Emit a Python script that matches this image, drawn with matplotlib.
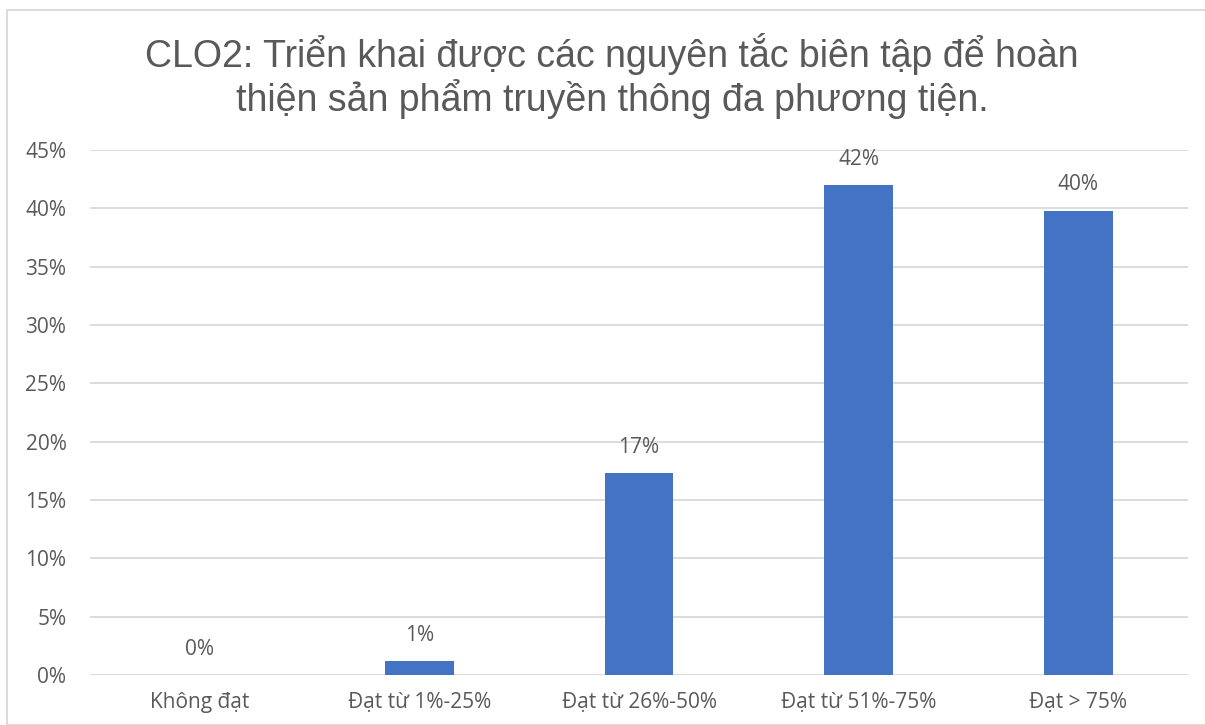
import matplotlib.pyplot as plt
import numpy as np
from matplotlib.patches import Rectangle

categories = ['Không đạt', 'Đạt từ 1%-25%', 'Đạt từ 26%-50%', 'Đạt từ 51%-75%', 'Đạt > 75%']
values = [0.0, 1.2, 17.3, 42.0, 39.8]
labels = ['0%', '1%', '17%', '42%', '40%']
yticks = [0, 5, 10, 15, 20, 25, 30, 35, 40, 45]

grey = '#595959'
fs = 15

fig = plt.figure(figsize=(12.05, 7.25), dpi=100)
ax = fig.add_axes([90 / 1205, 50 / 725, 1098 / 1205, 525 / 725])

x = np.arange(len(categories))
ax.bar(x, values, width=0.314, color='#4472C4', zorder=3)
for xi, v, lab in zip(x, values, labels):
    ax.annotate(lab, (xi, v), xytext=(0, 11), textcoords='offset points',
                ha='center', va='bottom', fontsize=fs, color=grey, family='Open Sans')

ax.set_xlim(-0.5, len(categories) - 0.5)
ax.set_ylim(0, 45)
ax.set_yticks(yticks)
ax.set_yticklabels([f'{t}%' for t in yticks], family='Open Sans', fontsize=fs, color=grey)
ax.set_xticks(x)
ax.set_xticklabels(categories, family='Open Sans', fontsize=fs, color=grey)
ax.tick_params(axis='y', length=0, pad=17)
ax.tick_params(axis='x', length=0, pad=12)
ax.grid(axis='y', color='#D9D9D9', linewidth=1.3, zorder=0)
for s in ax.spines.values():
    s.set_visible(False)

fig.text(612 / 1205, 1 - 76 / 725,
         'CLO2: Triển khai được các nguyên tắc biên tập để hoàn\nthiện sản phẩm truyền thông đa phương tiện.',
         ha='center', va='center', fontsize=27, color=grey, family='Liberation Sans',
         linespacing=1.1)

fig.patches.append(Rectangle((7 / 1205, 0), 1 - 7 / 1205 + 0.01, 1 - 10 / 725,
                             transform=fig.transFigure, fill=False,
                             edgecolor='#D9D9D9', linewidth=1.3))

fig.savefig('out.png', dpi=100)
